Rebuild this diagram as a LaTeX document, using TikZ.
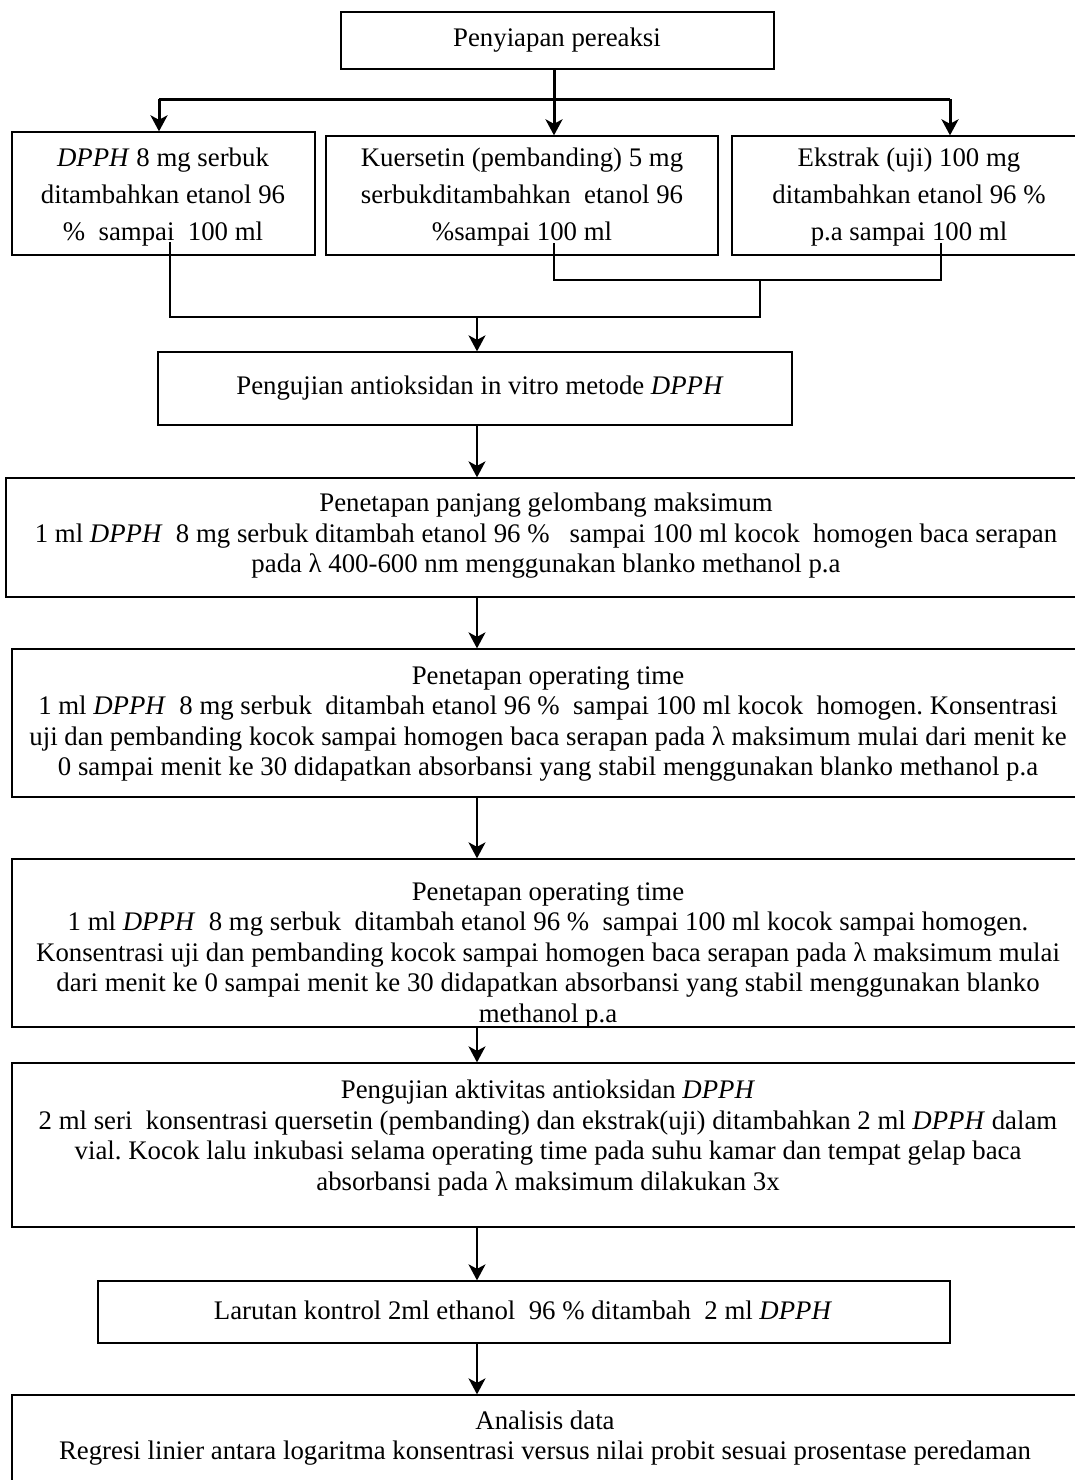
\documentclass[tikz,border=0pt]{standalone}
\usepackage{fontspec}
\setmainfont{Liberation Serif}
\usetikzlibrary{arrows.meta,calc}
\frenchspacing
\begin{document}
\begin{tikzpicture}[x=1pt,y=-1pt,
  box/.style={draw, line width=1.3pt, inner sep=0pt},
  txt/.style={align=center, inner sep=0pt, font=\fontsize{26.8}{30.5}\selectfont},
  txttop/.style={align=center, inner sep=0pt, font=\fontsize{26.8}{37}\selectfont},
  arr/.style={line width=2pt, -{Stealth[length=16pt,width=17pt,inset=4.5pt]}},
  toparr/.style={line width=3pt, -{Stealth[length=16pt,width=17pt,inset=4.5pt]}},
  topline/.style={line width=3pt},
  brk/.style={line width=1.6pt}]
\clip (0,0) rectangle (1075,1480);
\fill[white] (0,0) rectangle (1075,1480);

% boxes
\node[box, minimum width=433pt, minimum height=57pt] (top) at (557.5,40.5) {};
\node[box, minimum width=303pt, minimum height=123pt] (left) at (163.5,193.5) {};
\node[box, minimum width=392pt, minimum height=119pt] (mid) at (522,195.5) {};
\node[box, minimum width=354pt, minimum height=119pt] (right) at (909,195.5) {};
\node[box, minimum width=634pt, minimum height=73pt] (b1) at (475,388.5) {};
\node[box, minimum width=1080pt, minimum height=119pt] (b2) at (546,537.5) {};
\node[box, minimum width=1072pt, minimum height=148pt] (b3) at (548,723) {};
\node[box, minimum width=1072pt, minimum height=168pt] (b4) at (548,943) {};
\node[box, minimum width=1072pt, minimum height=164pt] (b5) at (548,1145) {};
\node[box, minimum width=852pt, minimum height=62pt] (b6) at (524,1312) {};
\node[box, minimum width=1072pt, minimum height=95pt] (b7) at (548,1442.5) {};

% texts
\node[txt] (ttop) at (557,40) {Penyiapan pereaksi};
\node[txttop] (tleft) at (163,197) {\textit{DPPH} 8 mg serbuk\\ditambahkan etanol 96\\\% \ sampai \ 100 ml};
\node[txttop] (tmid) at (522,197) {Kuersetin (pembanding) 5 mg\\serbukditambahkan \ etanol 96\\\%sampai 100 ml};
\node[txttop] (tright) at (909,197) {Ekstrak (uji) 100 mg\\ditambahkan etanol 96 \%\\p.a sampai 100 ml};
\node[txt] (t1) at (480,388) {Pengujian antioksidan in vitro metode \textit{DPPH}};
\node[txt] (t2) at (546,536) {Penetapan panjang gelombang maksimum\\1 ml \textit{DPPH} \ 8 mg serbuk ditambah etanol 96 \% \ \ sampai 100 ml kocok \ homogen baca serapan\\pada λ 400-600 nm menggunakan blanko methanol p.a};
\node[txt] (t3) at (548,724) {Penetapan operating time\\1 ml \textit{DPPH} \ 8 mg serbuk \ ditambah etanol 96 \% \ sampai 100 ml kocok \ homogen. Konsentrasi\\uji dan pembanding kocok sampai homogen baca serapan pada λ maksimum mulai dari menit ke\\0 sampai menit ke 30 didapatkan absorbansi yang stabil menggunakan blanko methanol p.a};
\begin{scope}
\clip (b4.north west) rectangle (b4.south east);
\node[txt] (t4) at (548,955) {Penetapan operating time\\1 ml \textit{DPPH} \ 8 mg serbuk \ ditambah etanol 96 \% \ sampai 100 ml kocok sampai homogen.\\Konsentrasi uji dan pembanding kocok sampai homogen baca serapan pada λ maksimum mulai\\dari menit ke 0 sampai menit ke 30 didapatkan absorbansi yang stabil menggunakan blanko\\methanol p.a};
\end{scope}
\node[txt] (t5) at (548,1138) {Pengujian aktivitas antioksidan \textit{DPPH}\\2 ml seri \ konsentrasi quersetin (pembanding) dan ekstrak(uji) ditambahkan 2 ml \textit{DPPH} dalam\\vial. Kocok lalu inkubasi selama operating time pada suhu kamar dan tempat gelap baca\\absorbansi pada λ maksimum dilakukan 3x};
\node[txt] (t6) at (523,1310) {Larutan kontrol 2ml ethanol \ 96 \% ditambah \ 2 ml \textit{DPPH}};
\node[txt] (t7) at (545,1438) {Analisis data\\Regresi linier antara logaritma konsentrasi versus nilai probit sesuai prosentase peredaman};

% top distribution
\coordinate (jM) at (554,99);
\coordinate (jL) at (159,99);
\coordinate (jR) at (950,99);
\draw[topline] (top.south -| jM) -- (jM);
\draw[topline] (jL) -- (jR);
\draw[toparr] (jL) -- (jL |- left.north);
\draw[toparr] (jM) -- (jM |- mid.north);
\draw[toparr] (jR) -- (jR |- right.north);

% collecting brackets
\coordinate (cL) at (170,242);
\coordinate (cM) at (554,243);
\coordinate (cR) at (941,243);
\coordinate (kM) at (554,280);
\coordinate (kR) at (941,280);
\coordinate (kC) at (760,280);
\coordinate (kC2) at (760,317);
\coordinate (kL) at (170,317);
\coordinate (kA) at (477,317);
\draw[brk] (cM) -- (kM) -- (kR) -- (cR);
\draw[brk] (kC) -- (kC2) -- (kL) -- (cL);
\draw[arr] (kA) -- (kA |- b1.north);

% main flow
\draw[arr] (b1.south -| kA) -- (b2.north -| kA);
\draw[arr] (b2.south -| kA) -- (b3.north -| kA);
\draw[arr] (b3.south -| kA) -- (b4.north -| kA);
\draw[arr] (b4.south -| kA) -- (b5.north -| kA);
\draw[arr] (b5.south -| kA) -- (b6.north -| kA);
\draw[arr] (b6.south -| kA) -- (b7.north -| kA);
\end{tikzpicture}
\end{document}
